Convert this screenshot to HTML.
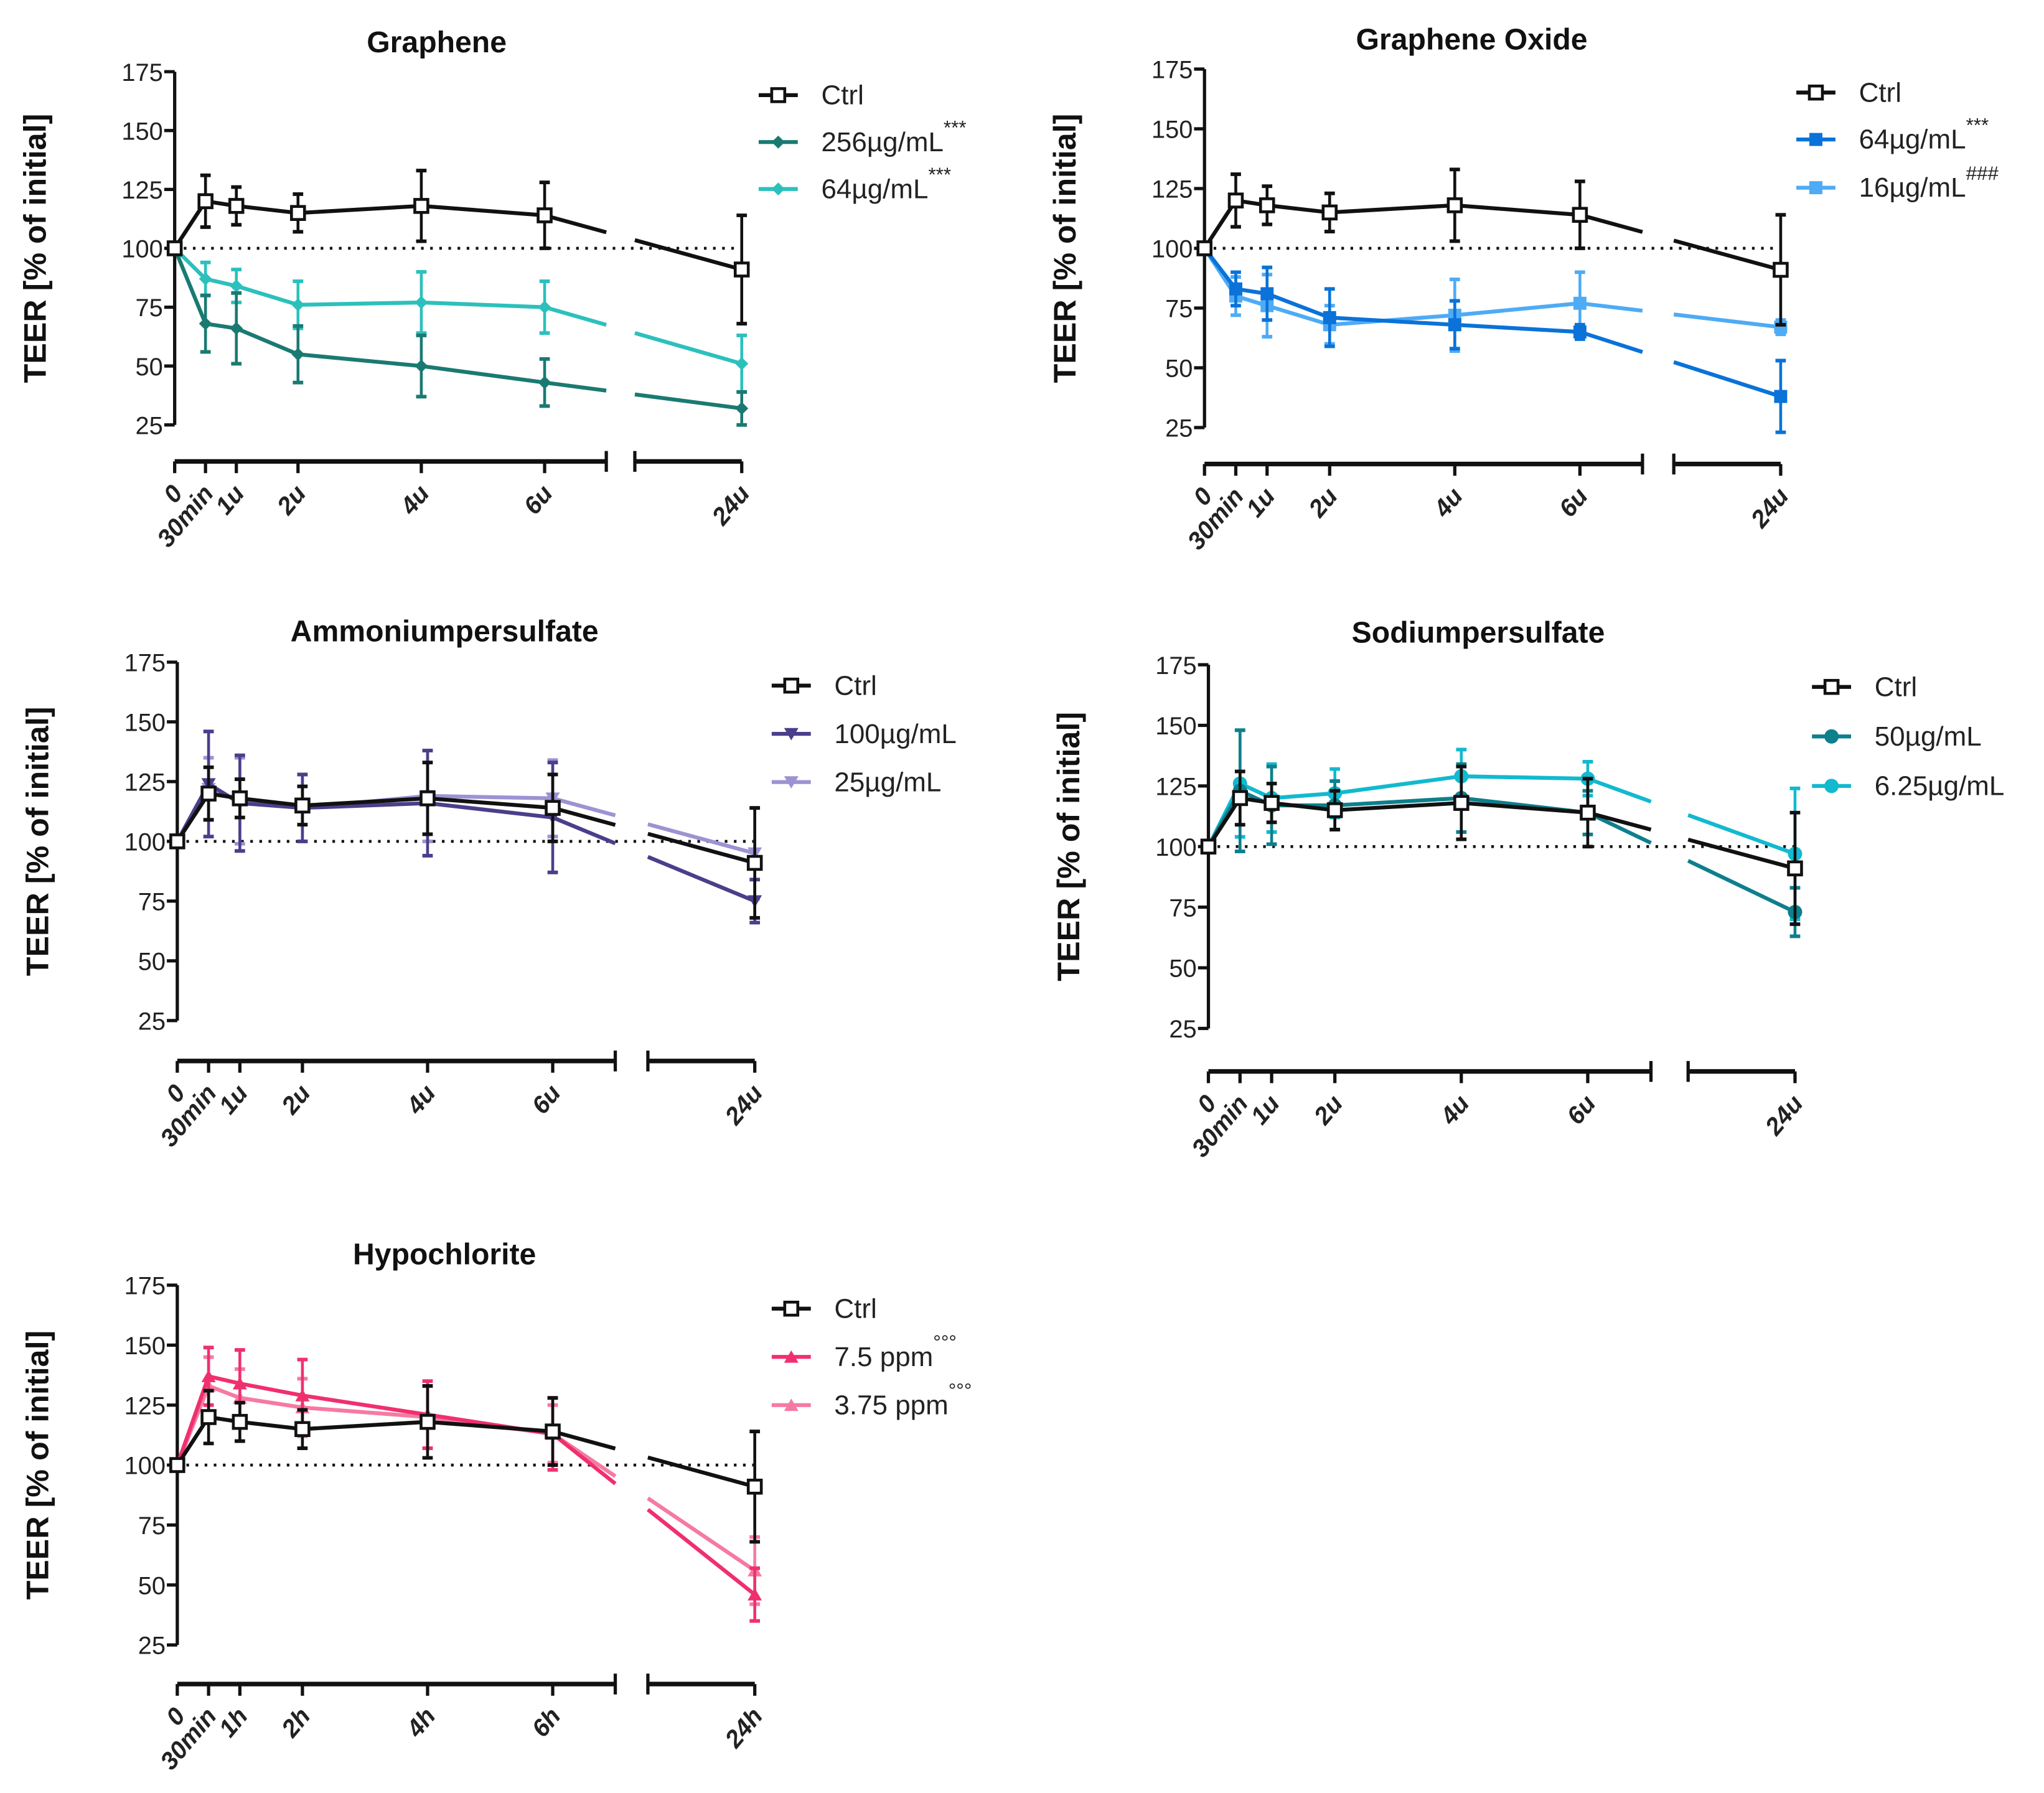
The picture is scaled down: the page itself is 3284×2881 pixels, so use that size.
<!DOCTYPE html>
<html><head><meta charset="utf-8"><style>
html,body{margin:0;padding:0;background:#fff;}
svg{display:block;}
text{font-family:"Liberation Sans",sans-serif;}
</style></head>
<body>
<svg id="fig" width="3284" height="2881" viewBox="0 0 1568 1375.6" preserveAspectRatio="none" xmlns="http://www.w3.org/2000/svg"></svg>
<script>
// ---- data ----
const timeLabels = ["0","30min","1u","2u","4u","6u","24u"];
const timeLabelsH = ["0","30min","1h","2h","4h","6h","24h"];
const times = [0,0.5,1,2,4,6,24];
const yTicks = [25,50,75,100,125,150,175];
const ctrlVals = [100,120,118,115,118,114,91];
const ctrlErr = [0,11,8,8,15,14,23];
const graph256 = [100,68,66,55,50,43,32];
const graph256Err = [0,12,15,12,13,10,7];
const graph64 = [100,87,84,76,77,75,51];
const graph64Err = [0,7,7,10,13,11,12];
const go64 = [100,83,81,71,68,65,38];
const go64Err = [0,7,11,12,10,3,15];
const go16 = [100,80,76,68,72,77,67];
const go16Err = [0,8,13,8,15,13,3];
const amm100 = [100,124,116,114,116,110,75];
const amm100Err = [0,22,20,14,22,23,9];
const amm25 = [100,122,117,114,119,118,95];
const amm25Err = [0,13,18,14,19,16,19];
const sod50 = [100,123,117,117,120,114,73];
const sod50Err = [0,25,16,10,14,9,10];
const sod625 = [100,126,120,122,129,128,97];
const sod625Err = [0,22,14,10,11,7,27];
const hyp75 = [100,137,134,129,121,113,46];
const hyp75Err = [0,12,14,15,14,15,11];
const hyp375 = [100,133,128,124,120,113,56];
const hyp375Err = [0,12,12,12,13,12,14];

const NS="http://www.w3.org/2000/svg";
const svg=document.getElementById('fig');
function el(tag,attrs,parent){const e=document.createElementNS(NS,tag);for(const k in attrs)e.setAttribute(k,attrs[k]);(parent||svg).appendChild(e);return e;}

const panels=[
 {name:"graphene",title:"Graphene",tx:335,ty:40,x0:134,yT:55,yB:326,ax:354,hr:47.3,x24:569,lx:582,ly:[73,109,145],labels:timeLabels,
  series:[{n:"Ctrl",v:ctrlVals,e:ctrlErr,c:"#111",m:"osq"},{n:"256µg/mL",sup:"***",v:graph256,e:graph256Err,c:"#1a7a72",m:"dia"},{n:"64µg/mL",sup:"***",v:graph64,e:graph64Err,c:"#2cc0bd",m:"dia"}]},
 {name:"graphene-oxide",title:"Graphene Oxide",tx:1129,ty:38,x0:924,yT:53,yB:328,ax:356,hr:48,x24:1366,lx:1378,ly:[71,107,144],labels:timeLabels,
  series:[{n:"Ctrl",v:ctrlVals,e:ctrlErr,c:"#111",m:"osq"},{n:"64µg/mL",sup:"***",v:go64,e:go64Err,c:"#0a72d8",m:"sq"},{n:"16µg/mL",sup:"###",v:go16,e:go16Err,c:"#4eabf5",m:"sq"}]},
 {name:"ammoniumpersulfate",title:"Ammoniumpersulfate",tx:341,ty:492,x0:136,yT:508,yB:783,ax:814,hr:48,x24:579,lx:592,ly:[526,563,600],labels:timeLabels,
  series:[{n:"Ctrl",v:ctrlVals,e:ctrlErr,c:"#111",m:"osq"},{n:"100µg/mL",v:amm100,e:amm100Err,c:"#4a3f8a",m:"tdn"},{n:"25µg/mL",v:amm25,e:amm25Err,c:"#9d93d2",m:"tdn"}]},
 {name:"sodiumpersulfate",title:"Sodiumpersulfate",tx:1134,ty:493,x0:927,yT:510,yB:789,ax:822,hr:48.5,x24:1377,lx:1390,ly:[527,565,603],labels:timeLabels,
  series:[{n:"Ctrl",v:ctrlVals,e:ctrlErr,c:"#111",m:"osq"},{n:"50µg/mL",v:sod50,e:sod50Err,c:"#0e7f8c",m:"circ"},{n:"6.25µg/mL",v:sod625,e:sod625Err,c:"#12b9cf",m:"circ"}]},
 {name:"hypochlorite",title:"Hypochlorite",tx:341,ty:970,x0:136,yT:986,yB:1262,ax:1292,hr:48,x24:579,lx:592,ly:[1004,1041,1078],labels:timeLabelsH,
  series:[{n:"Ctrl",v:ctrlVals,e:ctrlErr,c:"#111",m:"osq"},{n:"7.5 ppm",sup:"°°°",v:hyp75,e:hyp75Err,c:"#f0306e",m:"tup"},{n:"3.75 ppm",sup:"°°°",v:hyp375,e:hyp375Err,c:"#f57aa2",m:"tup"}]}
];

function marker(g,type,x,y,c){
 let m;
 if(type==="osq") m=el('rect',{x:x-5,y:y-5,width:10,height:10,fill:"#fff",stroke:c,'stroke-width':2.2},g);
 else if(type==="sq") m=el('rect',{x:x-5,y:y-5,width:10,height:10,fill:c},g);
 else if(type==="dia") m=el('polygon',{points:`${x},${y-5} ${x+5},${y} ${x},${y+5} ${x-5},${y}`,fill:c},g);
 else if(type==="circ") m=el('circle',{cx:x,cy:y,r:5.5,fill:c},g);
 else if(type==="tdn") m=el('polygon',{points:`${x-5.5},${y-4.5} ${x+5.5},${y-4.5} ${x},${y+5}`,fill:c},g);
 else m=el('polygon',{points:`${x-5.5},${y+4.5} ${x+5.5},${y+4.5} ${x},${y-5}`,fill:c},g);
 return m;
}

panels.forEach(p=>{
 const g=el('g',{});
 
 
 const Y=v=>p.yB-(v-25)*(p.yB-p.yT)/150;
 const X=i=>i===6?p.x24:p.x0+times[i]*p.hr;
 const bx1=p.x0+7*p.hr, bx2=p.x24-82;
 const t=el('text',{x:p.tx,y:p.ty,'text-anchor':'middle','font-size':23,'font-weight':'bold',fill:'#111'},g);
 t.textContent=p.title;
 
 
 el('line',{x1:p.x0,y1:p.yT,x2:p.x0,y2:p.yB,stroke:'#111','stroke-width':2.5},g);
 yTicks.forEach(v=>{
  el('line',{x1:p.x0-8,y1:Y(v),x2:p.x0,y2:Y(v),stroke:'#111','stroke-width':2.5},g);
  const tl=el('text',{x:p.x0-9,y:Y(v)+7,'text-anchor':'end','font-size':19,fill:'#222'},g);
  tl.textContent=v;
  
  
 });
 const yc=(p.yT+p.yB)/2;
 const yt=el('text',{x:0,y:0,'text-anchor':'middle','font-size':24,'font-weight':'bold',fill:'#111'},g);
 yt.setAttribute('transform',`translate(${p.x0-99},${yc}) rotate(-90)`);
 yt.textContent="TEER [% of initial]";
 
 
 el('line',{x1:p.x0,y1:p.ax,x2:bx1,y2:p.ax,stroke:'#111','stroke-width':3.5},g);
 el('line',{x1:bx2,y1:p.ax,x2:p.x24,y2:p.ax,stroke:'#111','stroke-width':3.5},g);
 el('line',{x1:bx1,y1:p.ax-8,x2:bx1,y2:p.ax+8,stroke:'#111','stroke-width':2.5},g);
 el('line',{x1:bx2,y1:p.ax-8,x2:bx2,y2:p.ax+8,stroke:'#111','stroke-width':2.5},g);
 times.forEach((tm,i)=>{
  el('line',{x1:X(i),y1:p.ax,x2:X(i),y2:p.ax+9,stroke:'#111','stroke-width':2.5},g);
  const xl=el('text',{x:0,y:0,'text-anchor':'end','font-size':19,'font-weight':'bold','font-style':'italic',fill:'#222'},g);
  xl.setAttribute('transform',`translate(${X(i)+7},${p.ax+25}) rotate(-50)`);
  xl.textContent=p.labels[i];
  
  
 });
 el('line',{x1:p.x0,y1:Y(100),x2:p.x24,y2:Y(100),stroke:'#111','stroke-width':2.2,'stroke-dasharray':'2 5'},g);
 p.series.slice().reverse().forEach(s=>{
  const sg=el('g',{},g);
  
  
  s.v.forEach((v,i)=>{
   if(!s.e[i])return;
   const x=X(i);
   el('line',{x1:x,y1:Y(v-s.e[i]),x2:x,y2:Y(v+s.e[i]),stroke:s.c,'stroke-width':2.2},sg);
   el('line',{x1:x-4,y1:Y(v-s.e[i]),x2:x+4,y2:Y(v-s.e[i]),stroke:s.c,'stroke-width':2.8},sg);
   el('line',{x1:x-4,y1:Y(v+s.e[i]),x2:x+4,y2:Y(v+s.e[i]),stroke:s.c,'stroke-width':2.8},sg);
  });
  let d="M"+X(0)+","+Y(s.v[0]);
  for(let i=1;i<6;i++) d+=" L"+X(i)+","+Y(s.v[i]);
  const f=xx=>s.v[5]+(s.v[6]-s.v[5])*(xx-X(5))/(X(6)-X(5));
  d+=" L"+bx1+","+Y(f(bx1))+" M"+bx2+","+Y(f(bx2))+" L"+X(6)+","+Y(s.v[6]);
  el('path',{d:d,fill:'none',stroke:s.c,'stroke-width':3},sg);
  s.v.forEach((v,i)=>{
   const mk=marker(sg,s.m,X(i),Y(v),s.c);
   
   
  });
 });
 p.series.forEach((s,k)=>{
  const lg=el('g',{},g);
  
  
  const ly=p.ly[k];
  el('line',{x1:p.lx,y1:ly,x2:p.lx+30,y2:ly,stroke:s.c,'stroke-width':3},lg);
  marker(lg,s.m,p.lx+15,ly,s.c);
  const lt=el('text',{x:p.lx+48,y:ly+7,'font-size':21,fill:'#222'},lg);
  lt.textContent=s.n;
  if(s.sup){const sp=el('tspan',{dy:-13,'font-size':15},lt);sp.textContent=s.sup;}
 });
});
</script>
</body></html>
